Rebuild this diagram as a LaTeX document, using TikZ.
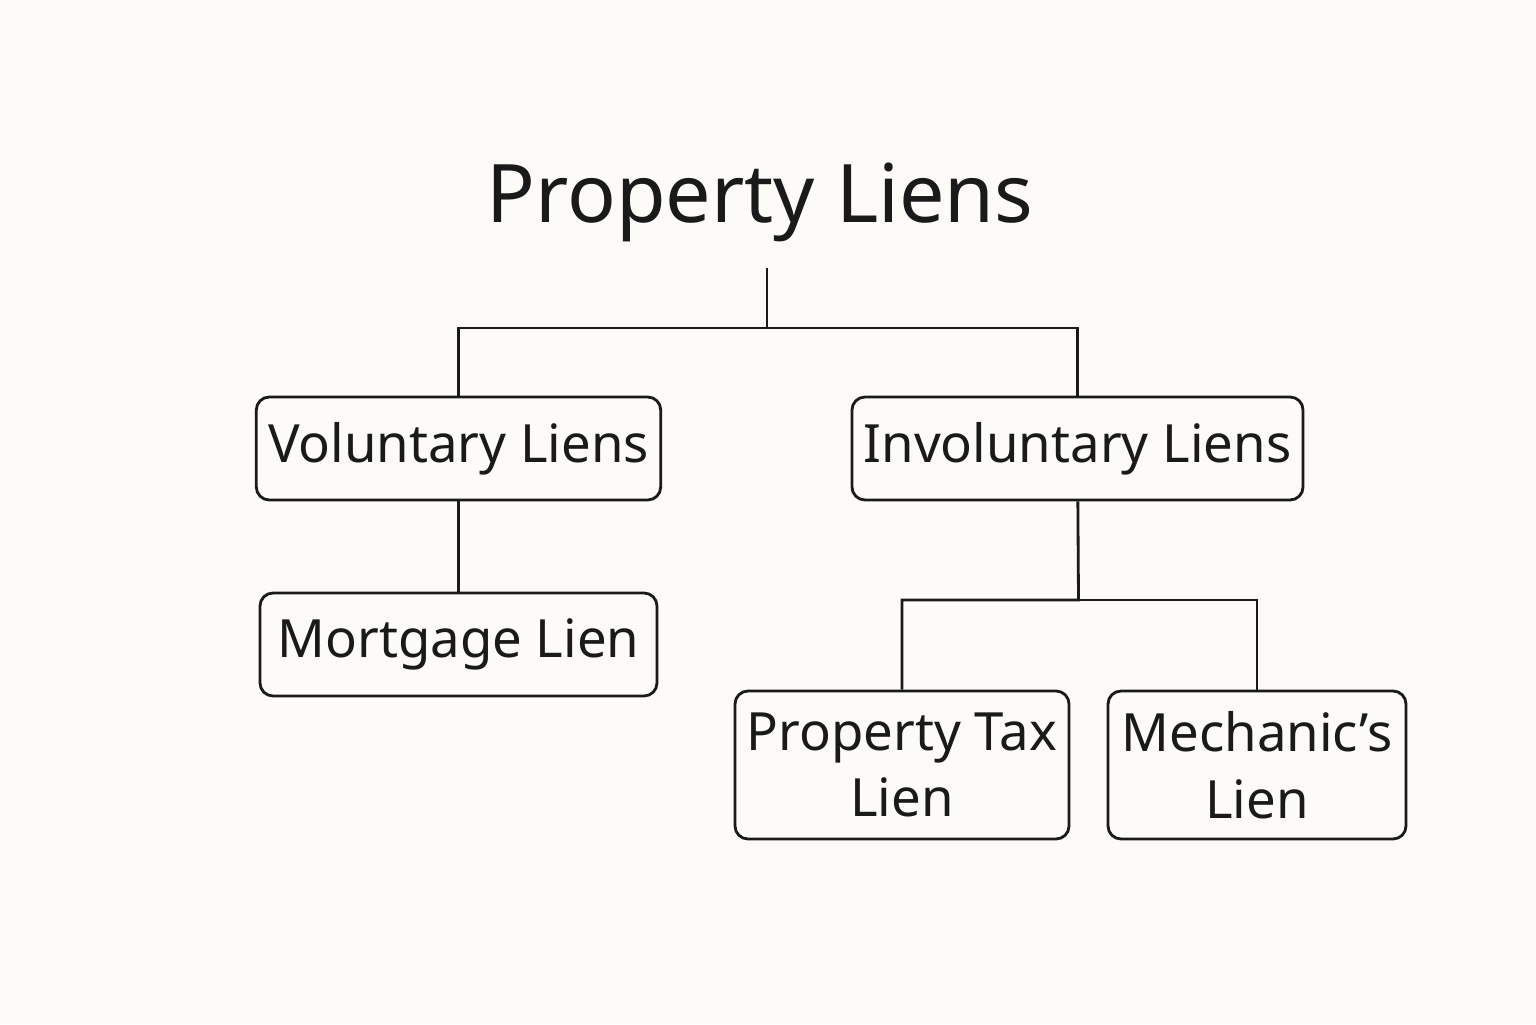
\documentclass[tikz,border=0pt]{standalone}
\usepackage{fontspec}
\setmainfont{Noto Sans}
\definecolor{paper}{HTML}{FCFBF7}
\definecolor{ink}{HTML}{1A1A1A}

\begin{document}
\begin{tikzpicture}[
  lienbox/.style={thick,draw=ink,rectangle,rounded corners=0.13cm,align=center,font=\fontsize{15}{19}\selectfont,text=ink},
  link/.style={thick,draw=ink}]

\fill[paper] (0,0) rectangle (15.36,10.24);
\useasboundingbox (0,0) rectangle (15.36,10.24);

% title node
\node[font=\bfseries\fontsize{23}{28}\selectfont,text=ink] (title) at (7.6,8.22) {Property Liens};
\coordinate (stem) at (7.67,7.56);
\coordinate (split) at (7.67,6.96);

% voluntary branch
\node[lienbox,minimum width=3.97cm,minimum height=1.03cm] (voluntary) at (4.585,5.755) {Voluntary Liens};
\node[lienbox,minimum width=3.97cm,minimum height=1.03cm] (mortgage) at (4.585,3.795) {Mortgage Lien};

% involuntary branch
\node[lienbox,minimum width=3.99cm,minimum height=1.03cm] (involuntary) at (10.775,5.755) {Involuntary Liens};
\node[lienbox,minimum width=3.04cm,minimum height=1.48cm] (tax) at (9.02,2.59) {Property Tax\\Lien};
\node[lienbox,minimum width=2.98cm,minimum height=1.48cm] (mechanic) at (12.57,2.59) {Mechanic's\\Lien};
\coordinate (fork) at (10.785,4.24);

\draw[link] (stem) -- (split) -| (voluntary.north);
\draw[link] (split) -| (involuntary.north);
\draw[link] (voluntary) -- (mortgage);
\draw[link] (involuntary) -- (fork) -| (tax.north);
\draw[link] (fork) -| (mechanic.north);

\end{tikzpicture}
\end{document}
